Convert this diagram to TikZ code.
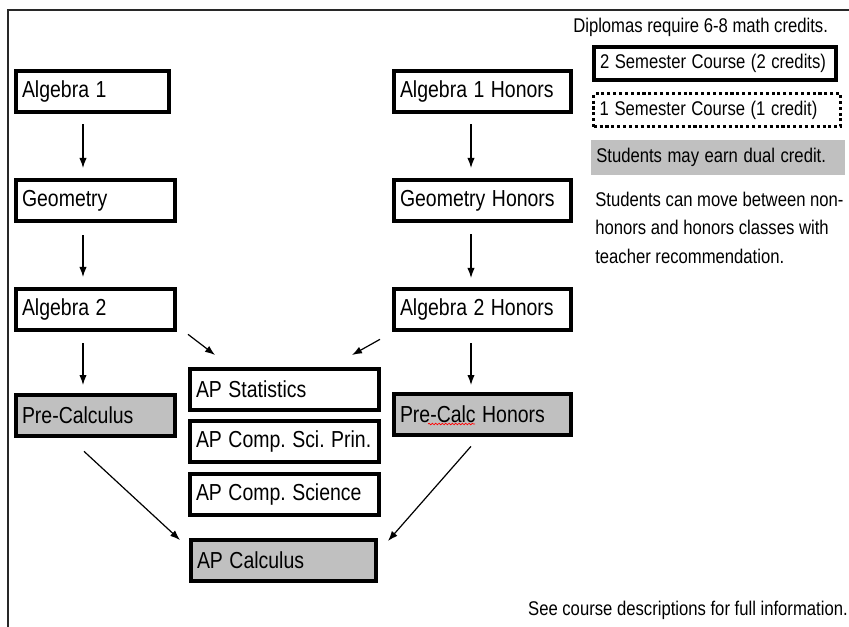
\documentclass[tikz,border=0pt]{standalone}
\usepackage{fontspec}
\setmainfont{Liberation Sans}
\usepackage{graphicx}
\usepackage{tikz}
\usetikzlibrary{arrows.meta, decorations.pathmorphing}
\definecolor{boxgray}{RGB}{192, 192, 192}
\definecolor{framegray}{RGB}{40, 40, 40}
\newcommand{\tallbox}[1]{\scalebox{1}[1.19]{#1}}
\frenchspacing

\begin{document}
\begin{tikzpicture}[x = 0.75pt, y = -0.75pt,
	course/.style = {draw, line width = 3pt, anchor = north west, inner xsep = 4.5pt, inner ysep = 0pt, minimum height = 31pt, align = left, font = \fontsize{14.6}{18}\selectfont},
	dual/.style = {course, fill = boxgray},
	arr/.style = {line width = 0.9pt, -{Latex[length = 7.5pt, width = 5.5pt]}},
	note/.style = {inner sep = 0pt, align = left, font = \fontsize{12.5}{18}\selectfont}]
	\useasboundingbox (0, 0) rectangle (849, 627);
	\draw[framegray, line width = 1pt] (849, 10) -- (8, 10) -- (8, 627);
	% non-honors track
	\node[course, text width = 105.75pt] (alg1) at (14, 69) {\tallbox{Algebra 1}};
	\node[course, text width = 110.25pt] (geo) at (14, 178) {\tallbox{Geometry}};
	\node[course, text width = 110.25pt] (alg2) at (14, 287) {\tallbox{Algebra 2}};
	\node[dual, text width = 110.25pt] (precalc) at (14, 393) {\tallbox{Pre-Calculus}};
	% honors track
	\node[course, text width = 123.75pt] (alg1h) at (392, 69) {\tallbox{Algebra 1 Honors}};
	\node[course, text width = 123.75pt] (geoh) at (392, 178) {\tallbox{Geometry Honors}};
	\node[course, text width = 123.75pt] (alg2h) at (392, 287) {\tallbox{Algebra 2 Honors}};
	\node[dual, text width = 123.75pt] (precalch) at (392, 392) {\tallbox{Pre-Calc Honors}};
	\draw[red, line width = 0.5pt, decorate, decoration = {snake, amplitude = 0.6pt, segment length = 2.5pt}] (428, 424) -- (475, 424);
	% AP courses
	\node[course, text width = 132.75pt] (apstat) at (188, 367) {\tallbox{AP Statistics}};
	\node[course, text width = 132.75pt] (apcsp) at (188, 419) {\tallbox{AP Comp. Sci. Prin.}};
	\node[course, text width = 132.75pt] (apcs) at (188, 472) {\tallbox{AP Comp. Science}};
	\node[dual, text width = 129.75pt] (apcalc) at (189, 538) {\tallbox{AP Calculus}};
	% arrows
	\draw[arr] ([shift = {(69, 10)}]alg1.south west) -- ([shift = {(69, -10)}]geo.north west);
	\draw[arr] ([shift = {(69, 12)}]geo.south west) -- ([shift = {(69, -10)}]alg2.north west);
	\draw[arr] ([shift = {(69, 11)}]alg2.south west) -- ([shift = {(69, -8)}]precalc.north west);
	\draw[arr] ([shift = {(79, 10)}]alg1h.south west) -- ([shift = {(79, -10)}]geoh.north west);
	\draw[arr] ([shift = {(79, 11)}]geoh.south west) -- ([shift = {(79, -9)}]alg2h.north west);
	\draw[arr] ([shift = {(79, 11)}]alg2h.south west) -- ([shift = {(79, -7)}]precalch.north west);
	\draw[arr] ([shift = {(11, 2)}]alg2.south east) -- ([shift = {(27, -12)}]apstat.north west);
	\draw[arr] ([shift = {(-12, 7)}]alg2h.south west) -- ([shift = {(-29, -12)}]apstat.north east);
	\draw[arr] ([shift = {(70, 13)}]precalc.south west) -- ([shift = {(-9, 2)}]apcalc.north west);
	\draw[arr] ([shift = {(79, 9)}]precalch.south west) -- ([shift = {(10, 3)}]apcalc.north east);
	% legend
	\node[note, anchor = west] (diploma) at (573, 27) {\tallbox{Diplomas require 6-8 math credits.}};
	\node[course, minimum height = 24.75pt, text width = 172.5pt, font = \fontsize{12.5}{18}\selectfont] (twosem) at (592, 45) {\tallbox{2 Semester Course (2 credits)}};
	\node[course, line width = 2.6pt, dash pattern = on 2.3pt off 2.1pt, minimum height = 24.75pt, text width = 176.25pt, font = \fontsize{12.5}{18}\selectfont] (onesem) at (592, 92) {\tallbox{1 Semester Course (1 credit)}};
	\node[note, anchor = north west, fill = boxgray, inner xsep = 3.75pt, minimum height = 26.25pt, text width = 183pt] (dualkey) at (591, 140) {\tallbox{Students may earn dual credit.}};
	\node[note, anchor = north west] (movenote) at (595, 186) {\tallbox{\begin{tabular}{@{}l@{}}Students can move between non-\\honors and honors classes with\\teacher recommendation.\end{tabular}}};
	\node[note, anchor = east] (seenote) at (848, 610) {\tallbox{See course descriptions for full information.}};
\end{tikzpicture}
\end{document}
